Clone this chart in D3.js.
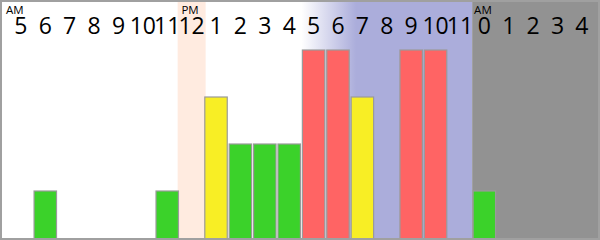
<!DOCTYPE html>
<html>
<head>
<meta charset="utf-8">
<script src="https://cdn.jsdelivr.net/npm/d3@7"></script>
<style>
body { margin:0; padding:0; background:#fff; }
svg { display:block; }
</style>
</head>
<body>
<svg id="chart" width="600" height="240"></svg>
<script>
// hour labels, one per column (5 AM .. 4 AM next day)
var hours = [5,6,7,8,9,10,11,12,1,2,3,4,5,6,7,8,9,10,11,0,1,2,3,4];
// activity level per column (0 = no bar)
var levels = [0,1,0,0,0,0,1,0,3,2,2,2,4,4,3,0,4,4,0,1,0,0,0,0];
// AM / PM markers: column index and text
var markerCols = [0, 7, 19];
var markerText = ["AM", "PM", "AM"];
// colour per level
var levelColors = ["none", "#3bd22a", "#3bd22a", "#f8ee25", "#ff6464"];

var width = 600, height = 240;
var svg = d3.select('#chart');

var cols = d3.range(hours.length);
var x = d3.scaleBand()
	.domain(cols)
	.range([8.7, 594.1])
	.paddingInner(0.08)
	.paddingOuter(0.04);
var step = x.step();
var y = d3.scaleLinear()
	.domain([0, 4])
	.range([238, 50]);

function colLeft(i)
{
	return x(i) - (step - x.bandwidth())/2;
}

var defs = svg.append('defs');
var grad = defs.append('linearGradient')
	.attr('id', 'eveningGrad')
	.attr('x1', '0%').attr('x2', '100%')
	.attr('y1', '0%').attr('y2', '0%');
grad.append('stop').attr('offset', '0%').attr('stop-color', '#ffffff');
grad.append('stop').attr('offset', '32%').attr('stop-color', '#abaddb');
grad.append('stop').attr('offset', '100%').attr('stop-color', '#abaddb');

var bg = svg.append('g').attr('class', 'background');
// noon band
bg.append('rect')
	.attr('x', x(7) + x.bandwidth()/2 - 14)
	.attr('y', 0)
	.attr('width', 28)
	.attr('height', height)
	.attr('fill', '#ffebe0');
// evening
bg.append('rect')
	.attr('x', colLeft(12))
	.attr('y', 0)
	.attr('width', colLeft(19) - colLeft(12))
	.attr('height', height)
	.attr('fill', 'url(#eveningGrad)');
// night
bg.append('rect')
	.attr('x', colLeft(19))
	.attr('y', 0)
	.attr('width', width - colLeft(19))
	.attr('height', height)
	.attr('fill', '#929292');

svg.append('g')
	.attr('class', 'bars')
	.selectAll('rect')
	.data(cols.filter(function(i){ return levels[i] > 0; }))
	.enter()
	.append('rect')
	.attr('x', function(i){ return x(i); })
	.attr('y', function(i){ return y(levels[i]); })
	.attr('width', x.bandwidth())
	.attr('height', function(i){ return y(0) - y(levels[i]) + 1; })
	.attr('fill', function(i){ return levelColors[levels[i]]; })
	.attr('stroke', '#9a9a9a')
	.attr('stroke-width', 1.2);

svg.append('g')
	.attr('class', 'hour-labels')
	.selectAll('text')
	.data(cols)
	.enter()
	.append('text')
	.attr('x', function(i){ return x(i) + x.bandwidth()/2; })
	.attr('y', 34)
	.attr('text-anchor', 'middle')
	.attr('font-family', 'Open Sans, sans-serif')
	.attr('font-size', 23)
	.attr('fill', '#000')
	.text(function(i){ return hours[i]; });

svg.append('g')
	.attr('class', 'ampm')
	.selectAll('text')
	.data(markerCols)
	.enter()
	.append('text')
	.attr('x', function(c, k){ return k == 0 ? 6 : x(c) + 1; })
	.attr('y', 14)
	.attr('font-family', 'Open Sans, sans-serif')
	.attr('font-size', 11.5)
	.attr('fill', '#000')
	.text(function(c, k){ return markerText[k]; });

// frame
svg.append('rect')
	.attr('x', 1)
	.attr('y', 1)
	.attr('width', width - 2)
	.attr('height', height - 2)
	.attr('fill', 'none')
	.attr('stroke', '#a0a0a0')
	.attr('stroke-width', 2);
</script>
</body>
</html>
